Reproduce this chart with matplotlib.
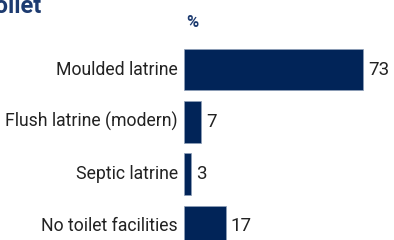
import matplotlib
matplotlib.use("Agg")
import matplotlib.pyplot as plt

categories = ["Moulded latrine", "Flush latrine (modern)", "Septic latrine", "No toilet facilities"]
values = [73, 7, 3, 17]
title = "Toilet"
unit = "%"

plt.rcParams["font.family"] = ["Roboto", "DejaVu Sans"]

W, H = 394, 240
fig = plt.figure(figsize=(W / 100, H / 100), dpi=100)
left = 184
ax = fig.add_axes([left / W, 0, 1 - left / W, 1])
ppu = 179 / 73
ax.set_xlim(0, (W - left) / ppu)
sp = 52.33
ax.set_ylim((240 - 69.5) / sp, -69.5 / sp)

navy = "#012458"
ypos = list(range(len(categories)))
ax.barh(ypos, values, height=0.79, color=navy, edgecolor="#8fa0b8", linewidth=0.5)
for y, v, c in zip(ypos, values, categories):
    ax.text(v + 5 / ppu, y, str(v), va="center", ha="left", fontsize=13.5, color="#222222")
    ax.text(-6 / ppu, y, c, va="center", ha="right", fontsize=12.7, color="#222222")
ax.axis("off")

fig.text(42 / W, 1 - 13 / H, title, ha="right", va="baseline", fontsize=17,
         fontweight="bold", color="#1d3b70")
fig.text(186 / W, 1 - 27 / H, unit, ha="left", va="baseline", fontsize=12,
         fontweight="bold", color="#1d3b70")

fig.savefig("out.png", dpi=100)
